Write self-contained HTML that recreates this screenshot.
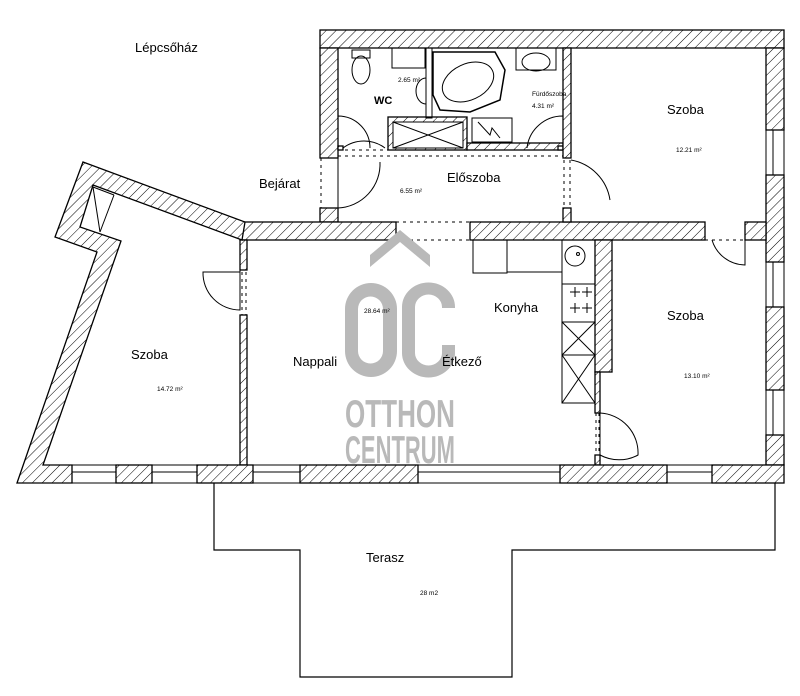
<!DOCTYPE html>
<html><head><meta charset="utf-8"><style>
html,body{margin:0;padding:0;background:#fff;}
svg{display:block;}
text{font-family:"Liberation Sans",sans-serif;fill:#000;}
</style></head><body>
<svg width="800" height="696" viewBox="0 0 800 696" xmlns="http://www.w3.org/2000/svg">
<defs>
<pattern id="h" width="7" height="7" patternUnits="userSpaceOnUse" patternTransform="rotate(45)">
<rect width="7" height="7" fill="#fff"/><line x1="0" y1="0" x2="0" y2="7" stroke="#000" stroke-width="1"/>
</pattern>
</defs>
<rect width="800" height="696" fill="#fff"/>
<g stroke="#000" stroke-width="1.3" fill="url(#h)">
<rect x="320" y="30" width="464" height="18"/>
<rect x="320" y="48" width="18" height="110"/>
<rect x="320" y="208" width="18" height="14"/>
<rect x="766" y="48" width="18" height="82"/>
<rect x="766" y="175" width="18" height="87"/>
<rect x="766" y="307" width="18" height="83"/>
<rect x="766" y="435" width="18" height="30"/>
<rect x="240" y="222" width="156" height="18"/>
<rect x="470" y="222" width="235" height="18"/>
<rect x="745" y="222" width="21" height="18"/>
<rect x="388" y="117" width="79" height="33"/>
<rect x="467" y="143" width="96" height="7"/>
<rect x="338" y="146" width="5" height="4"/>
<rect x="558" y="146" width="5" height="4"/>
<rect x="563" y="48" width="8" height="110"/>
<rect x="563" y="208" width="8" height="14"/>
<rect x="595" y="240" width="17" height="132"/>
<rect x="595" y="372" width="5" height="41"/>
<rect x="595" y="455" width="5" height="10"/>
<rect x="240" y="240" width="7" height="30"/>
<rect x="240" y="315" width="7" height="150"/>
<rect x="116" y="465" width="36" height="18"/>
<rect x="197" y="465" width="56" height="18"/>
<rect x="300" y="465" width="118" height="18"/>
<rect x="560" y="465" width="107" height="18"/>
<rect x="712" y="465" width="72" height="18"/>
<polygon points="83,162 245,222 242,240 93,185 80,227 121,241 43,465 72,465 72,483 17,483 97,252 55,237"/>
</g>
<g stroke="#000" stroke-width="1" fill="none">
<rect x="72" y="465" width="44" height="18"/><line x1="72" y1="472" x2="116" y2="472"/>
<rect x="152" y="465" width="45" height="18"/><line x1="152" y1="472" x2="197" y2="472"/>
<rect x="253" y="465" width="47" height="18"/><line x1="253" y1="472" x2="300" y2="472"/>
<rect x="418" y="465" width="142" height="18"/><line x1="418" y1="472" x2="560" y2="472"/>
<rect x="667" y="465" width="45" height="18"/><line x1="667" y1="472" x2="712" y2="472"/>
<rect x="766" y="130" width="18" height="45"/><line x1="773" y1="130" x2="773" y2="175"/>
<rect x="766" y="262" width="18" height="45"/><line x1="773" y1="262" x2="773" y2="307"/>
<rect x="766" y="390" width="18" height="45"/><line x1="773" y1="390" x2="773" y2="435"/>
<line x1="17" y1="483" x2="784" y2="483"/>
<rect x="426" y="48" width="6" height="70"/>
<rect x="393" y="122" width="70" height="26" fill="#fff"/>
<line x1="393" y1="122" x2="463" y2="148"/><line x1="463" y1="122" x2="393" y2="148"/>
<line x1="93" y1="187" x2="114" y2="195"/>
<line x1="93" y1="187" x2="100" y2="232"/><line x1="114" y1="195" x2="100" y2="232"/>
<polyline points="214,483 214,550 300,550 300,677 512,677 512,550 775,550 775,483" stroke-width="1.2"/>
<path d="M338,148 L338,116 A32,32 0 0 1 370,148"/>
<path d="M343,148 A35,35 0 0 1 385,148"/>
<path d="M563,148 L563,116 A36,36 0 0 0 527,148"/>
<path d="M338,158 L338,208 A44,44 0 0 0 380,162"/>
<path d="M571,160 A48,48 0 0 1 610,200"/>
<path d="M240,270 L240,310 A37,37 0 0 1 203,272 L240,272"/>
<path d="M745,240 L745,265 A35,35 0 0 1 712,240"/>
<path d="M600,413 L600,455 A40,40 0 0 0 638,455 A40,40 0 0 0 600,413"/>
<path d="M433,52 L495,52 L505,70 L500,100 L470,112 L440,110 L433,95 Z" stroke-width="1.5"/>
<ellipse cx="468" cy="82" rx="27" ry="18" transform="rotate(-25 468 82)"/>
<rect x="516" y="48" width="40" height="22"/>
<ellipse cx="536" cy="62" rx="14" ry="9"/>
<rect x="472" y="118" width="40" height="24"/>
<path d="M478,122 L490,135 L492,128 L500,138"/>
<ellipse cx="361" cy="70" rx="9" ry="14"/><rect x="352" y="50" width="18" height="8"/>
<rect x="392" y="48" width="33" height="20"/>
<path d="M426,78 A10,13 0 0 0 426,104"/>
<rect x="473" y="240" width="34" height="33"/>
<polyline points="507,240 507,272 562,272 562,240"/>
<rect x="562" y="240" width="33" height="44"/>
<circle cx="575" cy="256" r="10"/><circle cx="578" cy="254" r="1.5"/>
<rect x="562" y="284" width="33" height="38"/>
<path d="M570,292 h10 M575,287 v10 M582,292 h10 M587,287 v10 M570,308 h10 M575,303 v10 M582,308 h10 M587,303 v10"/>
<rect x="562" y="322" width="33" height="33"/><line x1="562" y1="322" x2="595" y2="355"/><line x1="595" y1="322" x2="562" y2="355"/>
<rect x="562" y="355" width="33" height="48"/><line x1="562" y1="355" x2="595" y2="403"/><line x1="595" y1="355" x2="562" y2="403"/>
</g>
<g stroke="#000" stroke-width="1" stroke-dasharray="3,4" fill="none">
<line x1="338" y1="150" x2="563" y2="150"/>
<line x1="338" y1="156" x2="563" y2="156"/>
<line x1="396" y1="222" x2="470" y2="222"/><line x1="396" y1="240" x2="470" y2="240"/>
<line x1="705" y1="240" x2="745" y2="240"/>
<line x1="564" y1="160" x2="564" y2="208"/><line x1="570" y1="160" x2="570" y2="208"/>
<line x1="242" y1="272" x2="242" y2="315"/><line x1="246" y1="272" x2="246" y2="315"/>
<line x1="596" y1="413" x2="596" y2="455"/><line x1="599" y1="413" x2="599" y2="455"/>
<line x1="321" y1="158" x2="321" y2="208"/>
</g>
<g fill="#b9b9b9">
<polygon points="370,267 400,242 430,267 430,255 400,230 370,255"/>
<path d="M345,309 a26,26 0 0 1 52,0 v42 a26,26 0 0 1 -52,0 Z M358,309 v42 a12.5,12.5 0 0 0 25,0 v-42 a12.5,12.5 0 0 0 -25,0 Z" fill-rule="evenodd"/>
<path d="M455,308 v-1 a26,24 0 0 0 -53,0 v46 a26,24 0 0 0 53,0 v-8 h-13 v8 a13,12 0 0 1 -27,0 v-46 a13,12 0 0 1 27,0 v1 Z"/>
<text x="400" y="427" text-anchor="middle" font-size="39" font-weight="bold" style="fill:#b9b9b9" textLength="110" lengthAdjust="spacingAndGlyphs">OTTHON</text>
<text x="400" y="463" text-anchor="middle" font-size="39" font-weight="bold" style="fill:#b9b9b9" textLength="110" lengthAdjust="spacingAndGlyphs">CENTRUM</text>
</g>
<g font-size="13">
<text x="135" y="52">Lépcsőház</text>
<text x="259" y="188">Bejárat</text>
<text x="447" y="182">Előszoba</text>
<text x="667" y="114">Szoba</text>
<text x="494" y="312">Konyha</text>
<text x="667" y="320">Szoba</text>
<text x="131" y="359">Szoba</text>
<text x="293" y="366">Nappali</text>
<text x="442" y="366">Étkező</text>
<text x="366" y="562">Terasz</text>
<text x="374" y="104" font-size="11" font-weight="bold">WC</text>
</g>
<g font-size="6.5">
<text x="398" y="82">2.65 m²</text>
<text x="532" y="96">Fürdőszoba</text>
<text x="532" y="108">4.31 m²</text>
<text x="676" y="152">12.21 m²</text>
<text x="400" y="193">6.55 m²</text>
<text x="364" y="313">28.64 m²</text>
<text x="684" y="378">13.10 m²</text>
<text x="157" y="391">14.72 m²</text>
<text x="420" y="595">28 m2</text>
</g>
</svg>
</body></html>
